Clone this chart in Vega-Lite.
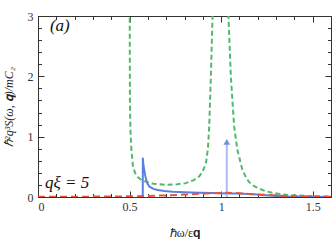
{
  "$schema": "https://vega.github.io/schema/vega-lite/v6.json",
  "width": 293,
  "height": 181,
  "autosize": "none",
  "padding": {"left": 38, "top": 16, "right": 4, "bottom": 48},
  "background": "white",
  "config": {
    "view": {"stroke": "#333333", "strokeWidth": 1},
    "axis": {
      "domain": false,
      "grid": false,
      "tickColor": "#333333",
      "tickWidth": 1,
      "labelFont": "Liberation Serif",
      "labelFontSize": 12,
      "labelColor": "#333333",
      "titleFont": "Liberation Serif",
      "titleFontSize": 12,
      "titleFontWeight": "normal",
      "titleColor": "#222222"
    }
  },
  "data": {
    "values": [
      {"s": "green", "x": 0.5005, "y": 3.5},
      {"s": "green", "x": 0.502, "y": 1.6},
      {"s": "green", "x": 0.505, "y": 1.1},
      {"s": "green", "x": 0.51, "y": 0.78},
      {"s": "green", "x": 0.518, "y": 0.52},
      {"s": "green", "x": 0.53, "y": 0.4},
      {"s": "green", "x": 0.545, "y": 0.33},
      {"s": "green", "x": 0.565, "y": 0.28},
      {"s": "green", "x": 0.591, "y": 0.25},
      {"s": "green", "x": 0.63, "y": 0.22},
      {"s": "green", "x": 0.7, "y": 0.2},
      {"s": "green", "x": 0.76, "y": 0.21},
      {"s": "green", "x": 0.808, "y": 0.23},
      {"s": "green", "x": 0.85, "y": 0.28},
      {"s": "green", "x": 0.88, "y": 0.34},
      {"s": "green", "x": 0.9, "y": 0.43},
      {"s": "green", "x": 0.917, "y": 0.56},
      {"s": "green", "x": 0.928, "y": 0.8},
      {"s": "green", "x": 0.935, "y": 1.17},
      {"s": "green", "x": 0.944, "y": 2.0},
      {"s": "green", "x": 0.953, "y": 3.0},
      {"s": "green", "x": 0.96, "y": 4.0},
      {"s": "green", "x": 1.035, "y": 4.0},
      {"s": "green", "x": 1.04, "y": 3.0},
      {"s": "green", "x": 1.053, "y": 2.0},
      {"s": "green", "x": 1.071, "y": 1.17},
      {"s": "green", "x": 1.089, "y": 0.78},
      {"s": "green", "x": 1.098, "y": 0.67},
      {"s": "green", "x": 1.116, "y": 0.45},
      {"s": "green", "x": 1.135, "y": 0.33},
      {"s": "green", "x": 1.152, "y": 0.25},
      {"s": "green", "x": 1.18, "y": 0.18},
      {"s": "green", "x": 1.207, "y": 0.14},
      {"s": "green", "x": 1.24, "y": 0.1},
      {"s": "green", "x": 1.279, "y": 0.07},
      {"s": "green", "x": 1.32, "y": 0.05},
      {"s": "green", "x": 1.37, "y": 0.033},
      {"s": "green", "x": 1.42, "y": 0.024},
      {"s": "green", "x": 1.478, "y": 0.017},
      {"s": "green", "x": 1.54, "y": 0.01},
      {"s": "green", "x": 1.6, "y": 0.006},
      {"s": "blue", "x": 0.572, "y": 0},
      {"s": "blue", "x": 0.5725, "y": 0.65},
      {"s": "blue", "x": 0.575, "y": 0.55},
      {"s": "blue", "x": 0.58, "y": 0.45},
      {"s": "blue", "x": 0.586, "y": 0.35},
      {"s": "blue", "x": 0.591, "y": 0.28},
      {"s": "blue", "x": 0.6, "y": 0.21},
      {"s": "blue", "x": 0.609, "y": 0.17},
      {"s": "blue", "x": 0.63, "y": 0.135},
      {"s": "blue", "x": 0.654, "y": 0.116},
      {"s": "blue", "x": 0.69, "y": 0.1},
      {"s": "blue", "x": 0.735, "y": 0.088},
      {"s": "blue", "x": 0.8, "y": 0.078},
      {"s": "blue", "x": 0.88, "y": 0.07},
      {"s": "blue", "x": 0.95, "y": 0.065},
      {"s": "blue", "x": 1.025, "y": 0.06},
      {"s": "blue", "x": 1.08, "y": 0.058},
      {"s": "blue", "x": 1.12, "y": 0.055},
      {"s": "blue", "x": 1.18, "y": 0.045},
      {"s": "blue", "x": 1.24, "y": 0.03},
      {"s": "blue", "x": 1.29, "y": 0.02},
      {"s": "blue", "x": 1.35, "y": 0.01},
      {"s": "blue", "x": 1.42, "y": 0.004},
      {"s": "blue", "x": 1.6, "y": 0.0},
      {"s": "red", "x": 0.0, "y": 0.003},
      {"s": "red", "x": 0.2, "y": 0.005},
      {"s": "red", "x": 0.4, "y": 0.008},
      {"s": "red", "x": 0.5, "y": 0.012},
      {"s": "red", "x": 0.6, "y": 0.018},
      {"s": "red", "x": 0.7, "y": 0.027},
      {"s": "red", "x": 0.8, "y": 0.04},
      {"s": "red", "x": 0.9, "y": 0.055},
      {"s": "red", "x": 0.97, "y": 0.065},
      {"s": "red", "x": 1.03, "y": 0.07},
      {"s": "red", "x": 1.08, "y": 0.065},
      {"s": "red", "x": 1.15, "y": 0.05},
      {"s": "red", "x": 1.2, "y": 0.042},
      {"s": "red", "x": 1.3, "y": 0.025},
      {"s": "red", "x": 1.4, "y": 0.014},
      {"s": "red", "x": 1.5, "y": 0.008},
      {"s": "red", "x": 1.6, "y": 0.005},
      {"s": "arrow", "x": 1.031, "y": 0.0, "y2": 0.88},
      {"s": "head", "x": 1.031, "y": 0.915}
    ]
  },
  "layer": [
    {
      "transform": [{"filter": "datum.s === 'green'"}],
      "mark": {"type": "line", "color": "#52b96a", "strokeWidth": 2, "strokeDash": [5, 3], "clip": true},
      "encoding": {
        "x": {"field": "x", "type": "quantitative", "scale": {"domain": [0, 1.6], "nice": false},
          "axis": {"orient": "bottom", "values": [0, 0.5, 1, 1.5], "tickSize": -6, "labelPadding": 10, "title": "ℏω/ε𝐪", "titlePadding": 15, "labelExpr": "datum.value === 0 ? '0' : datum.value === 1 ? '1' : datum.label"}},
        "y": {"field": "y", "type": "quantitative", "scale": {"domain": [0, 3], "nice": false},
          "axis": {"orient": "left", "values": [0, 1, 2, 3], "tickSize": -6, "labelPadding": 11, "title": "ℏ²q³S(ω, 𝐪)/mC₂", "titleFontStyle": "italic", "titlePadding": 12}},
        "order": {"field": "x", "type": "quantitative"}
      }
    },
    {
      "transform": [{"filter": "datum.s === 'blue'"}],
      "mark": {"type": "line", "color": "#5a7fe0", "strokeWidth": 2, "clip": true},
      "encoding": {
        "x": {"field": "x", "type": "quantitative",
          "axis": {"orient": "bottom", "values": [0.1, 0.2, 0.3, 0.4, 0.6, 0.7, 0.8, 0.9, 1.1, 1.2, 1.3, 1.4, 1.6], "tickSize": -3.5, "labels": false, "title": null}},
        "y": {"field": "y", "type": "quantitative",
          "axis": {"orient": "left", "values": [0.2, 0.4, 0.6, 0.8, 1.2, 1.4, 1.6, 1.8, 2.2, 2.4, 2.6, 2.8], "tickSize": -3.5, "labels": false, "title": null}},
        "order": {"field": "x", "type": "quantitative"}
      }
    },
    {
      "transform": [{"filter": "datum.s === 'arrow'"}],
      "mark": {"type": "rule", "color": "#a9bdf2", "strokeWidth": 2},
      "encoding": {
        "x": {"field": "x", "type": "quantitative",
          "axis": {"orient": "top", "values": [0, 0.5, 1, 1.5], "tickSize": -6, "labels": false, "title": null}},
        "y": {"field": "y", "type": "quantitative",
          "axis": {"orient": "right", "values": [0, 1, 2, 3], "tickSize": -6, "labels": false, "title": null}},
        "y2": {"field": "y2"}
      }
    },
    {
      "transform": [{"filter": "datum.s === 'head'"}],
      "mark": {"type": "point", "shape": "triangle-up", "filled": true, "color": "#6e8fe6", "size": 45, "opacity": 1},
      "encoding": {
        "x": {"field": "x", "type": "quantitative",
          "axis": {"orient": "top", "values": [0.1, 0.2, 0.3, 0.4, 0.6, 0.7, 0.8, 0.9, 1.1, 1.2, 1.3, 1.4, 1.6], "tickSize": -3.5, "labels": false, "title": null}},
        "y": {"field": "y", "type": "quantitative",
          "axis": {"orient": "right", "values": [0.2, 0.4, 0.6, 0.8, 1.2, 1.4, 1.6, 1.8, 2.2, 2.4, 2.6, 2.8], "tickSize": -3.5, "labels": false, "title": null}}
      }
    },
    {
      "transform": [{"filter": "datum.s === 'red'"}],
      "mark": {"type": "line", "color": "#e8553a", "strokeWidth": 2, "strokeDash": [7, 4], "clip": true},
      "encoding": {
        "x": {"field": "x", "type": "quantitative", "axis": null},
        "y": {"field": "y", "type": "quantitative", "axis": null},
        "order": {"field": "x", "type": "quantitative"}
      }
    },
    {
      "data": {"values": [{"label": "(a)"}]},
      "mark": {"type": "text", "font": "Liberation Serif", "fontSize": 17, "fontStyle": "italic", "align": "left", "baseline": "middle", "fill": "#111111"},
      "encoding": {
        "text": {"field": "label"},
        "x": {"datum": 0.065, "type": "quantitative", "axis": null},
        "y": {"datum": 2.84, "type": "quantitative", "axis": null}
      }
    },
    {
      "data": {"values": [{"label": "qξ = 5"}]},
      "mark": {"type": "text", "font": "Liberation Serif", "fontSize": 17, "fontStyle": "italic", "align": "left", "baseline": "middle", "fill": "#111111"},
      "encoding": {
        "text": {"field": "label"},
        "x": {"datum": 0.038, "type": "quantitative", "axis": null},
        "y": {"datum": 0.23, "type": "quantitative", "axis": null}
      }
    }
  ],
  "resolve": {"axis": {"x": "independent", "y": "independent"}}
}
